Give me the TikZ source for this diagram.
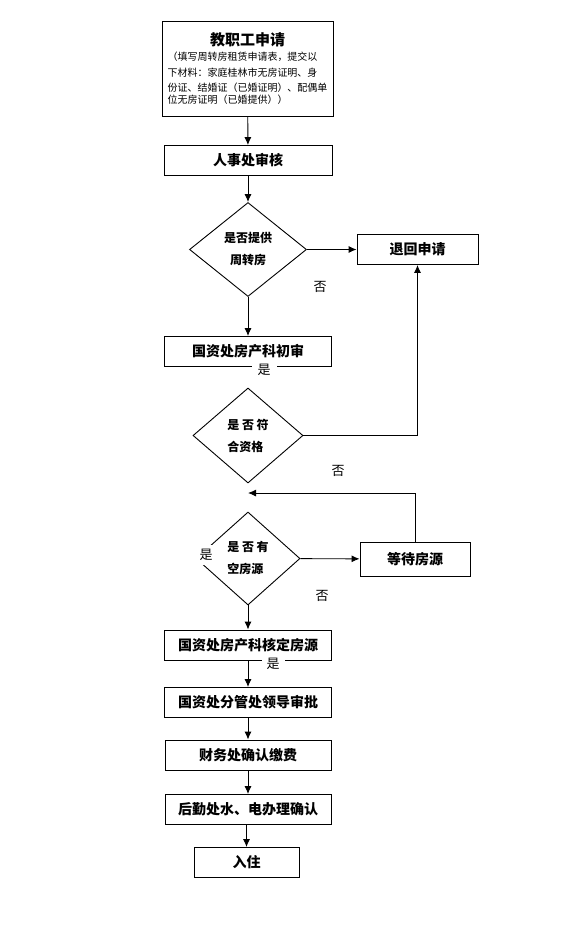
\documentclass[tikz,border=0pt]{standalone}
\usepackage{fontspec}
\setmainfont{Noto Sans CJK SC}
\usetikzlibrary{shapes.geometric,arrows.meta}
\begin{document}
\begin{tikzpicture}[x=1pt,y=-1pt,line width=0.9pt,
  stepbox/.style={draw,shape=rectangle,inner sep=0pt,minimum height=30pt,
    font=\bfseries\fontsize{14pt}{16pt}\selectfont},
  choice/.style={draw,shape=diamond,inner sep=0pt,align=left,
    font=\bfseries\fontsize{12pt}{22pt}\selectfont},
  flow/.style={-{Latex[length=8pt,width=7pt]}},
  answer/.style={inner sep=1.5pt,font=\fontsize{13pt}{15pt}\selectfont}]
\useasboundingbox (0,0) rectangle (581,938);
\node [draw,shape=rectangle,name=apply,inner sep=0pt,minimum width=171pt,minimum height=95pt,
  text width=160pt,align=left] at (247.5,68.5)
  {{\centering\bfseries\fontsize{15pt}{20pt}\selectfont 教职工申请\par}
   \fontsize{10pt}{15.5pt}\selectfont （填写周转房租赁申请表，提交以\\下材料：家庭桂林市无房证明、身\\份证、结婚证（已婚证明）、配偶单\\位无房证明（已婚提供））};
\node [stepbox,name=hr,minimum width=168pt] at (248,160.5){人事处审核};
\node [choice,name=offer,minimum width=117pt,minimum height=94pt,align=center] at (248,249.5){是否提供\\周转房};
\node [stepbox,name=reject,minimum width=121pt] at (417.5,249.5){退回申请};
\node [stepbox,name=first,minimum width=167pt] at (248,351.5){国资处房产科初审};
\node [choice,name=qualify,minimum width=110pt,minimum height=95pt] at (248,435.5){是 否 符\\合资格};
\coordinate (waitend) at (248,493);
\node [choice,name=vacant,minimum width=104pt,minimum height=93pt] at (248,558.5){是 否 有\\空房源};
\node [stepbox,name=wait,minimum width=110pt,minimum height=34pt] at (415,559){等待房源};
\node [stepbox,name=fixed,minimum width=167pt] at (248,645){国资处房产科核定房源};
\node [stepbox,name=leader,minimum width=167pt] at (248,702.5){国资处分管处领导审批};
\node [stepbox,name=pay,minimum width=166pt] at (248,755){财务处确认缴费};
\node [stepbox,name=utility,minimum width=166pt] at (248,809.5){后勤处水、电办理确认};
\node [stepbox,name=movein,minimum width=105pt] at (246.5,862.5){入住};
\draw[flow] (apply)--(hr);
\draw[flow] (hr)--(offer);
\draw[flow] (offer)--(reject);
\draw[flow] (offer)--(first);
\draw[flow] (qualify.east)-|(reject);
\draw[flow] (wait)|-(waitend);
\draw[flow] (vacant)--(wait);
\draw[flow] (vacant)--(fixed);
\draw[flow] (fixed)--(leader);
\draw[flow] (leader)--(pay);
\draw[flow] (pay)--(utility);
\draw[flow] (utility.south-|movein)--(movein);
\node [answer,name=no1] at (320,287){否};
\node [answer,name=yes1,fill=white,inner xsep=6pt] at (264,370){是};
\node [answer,name=no2] at (338,471){否};
\node [answer,name=yes2,fill=white,inner xsep=7pt,inner ysep=4pt] at (206,555){是};
\node [answer,name=no3] at (322,596){否};
\node [answer,name=yes3,fill=white,inner xsep=5pt] at (273,664){是};
\end{tikzpicture}
\end{document}
